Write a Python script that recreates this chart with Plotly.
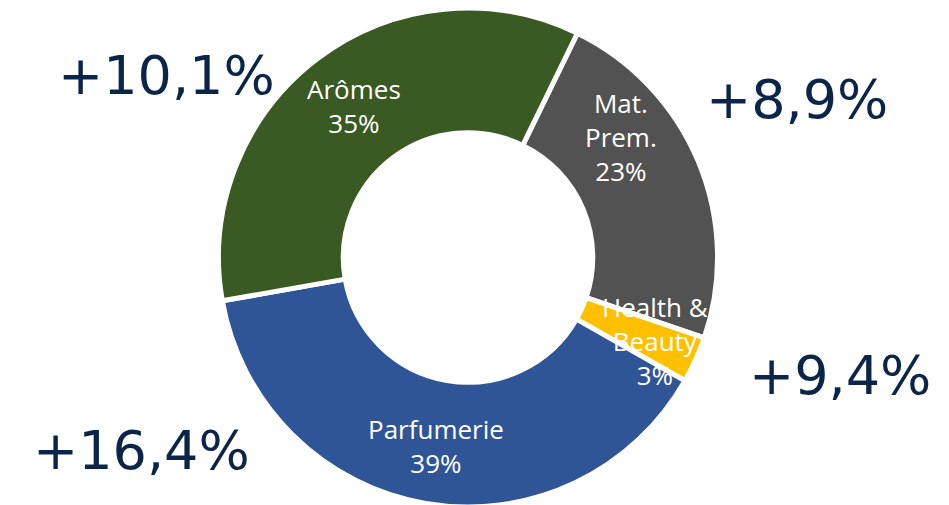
import math
import plotly.graph_objects as go

# ---- data ----
segments = ["Mat. Prem.", "Health & Beauty", "Parfumerie", "Arômes"]
label_text = ["Mat.<br>Prem.", "Health &<br>Beauty", "Parfumerie", "Arômes"]
shares = [23, 3, 39, 35]
growth = ["+8,9%", "+9,4%", "+16,4%", "+10,1%"]
colors = ["#525252", "#FFC000", "#2F5597", "#3A5A24"]

W, H = 949, 505
OFF = 8          # page body margin
MT, MB = 0, 6
dom_x = [0.2213, 0.7482]
ROT = 26

fig = go.Figure(go.Pie(
    labels=segments, values=shares, sort=False, direction="clockwise",
    rotation=ROT, hole=0.5, textinfo="none", hoverinfo="label+percent",
    marker=dict(colors=colors, line=dict(color="white", width=5)),
    domain=dict(x=dom_x, y=[0, 1]), showlegend=False,
))

# geometry of the pie in layout pixels
cx = (dom_x[0] + dom_x[1]) / 2 * W
plot_h = H - MT - MB
cy = MT + plot_h / 2
R = min((dom_x[1] - dom_x[0]) * W, plot_h) / 2


def to_paper(px, py):
    return px / W, (H - MB - py) / plot_h


# per-label style offsets: (angle shift in degrees, radius fraction)
lab_style = [(-15.5, 0.78), (0, 0.82), (0, 0.765), (0, 0.76)]
# growth label centres in screen pixels
growth_pos = [(797, 100), (840, 375), (141, 450), (166, 75)]

total = sum(shares)
cum = 0
annotations = []
for i, v in enumerate(shares):
    mid = ROT + (cum + v / 2) / total * 360
    cum += v
    dth, rf = lab_style[i]
    th = math.radians(mid + dth)
    px = cx + rf * R * math.sin(th)
    py = cy - rf * R * math.cos(th)
    ax, ay = to_paper(px, py)
    annotations.append(dict(
        x=ax, y=ay, xref="paper", yref="paper",
        text=f"{label_text[i]}<br>{round(v / total * 100)}%", showarrow=False,
        font=dict(family="Open Sans", size=26, color="white"),
        xanchor="center", yanchor="middle", align="center",
    ))
    gx, gy = growth_pos[i]
    bx, by = to_paper(gx - OFF, gy - OFF)
    annotations.append(dict(
        x=bx, y=by, xref="paper", yref="paper",
        text=growth[i], showarrow=False,
        font=dict(family="DejaVu Sans", size=54, color="#0B2548"),
        xanchor="center", yanchor="middle",
    ))

fig.update_layout(
    width=W, height=H, margin=dict(l=0, r=0, t=MT, b=MB),
    paper_bgcolor="white", plot_bgcolor="white",
    annotations=annotations,
)
fig.write_html("out.html")
